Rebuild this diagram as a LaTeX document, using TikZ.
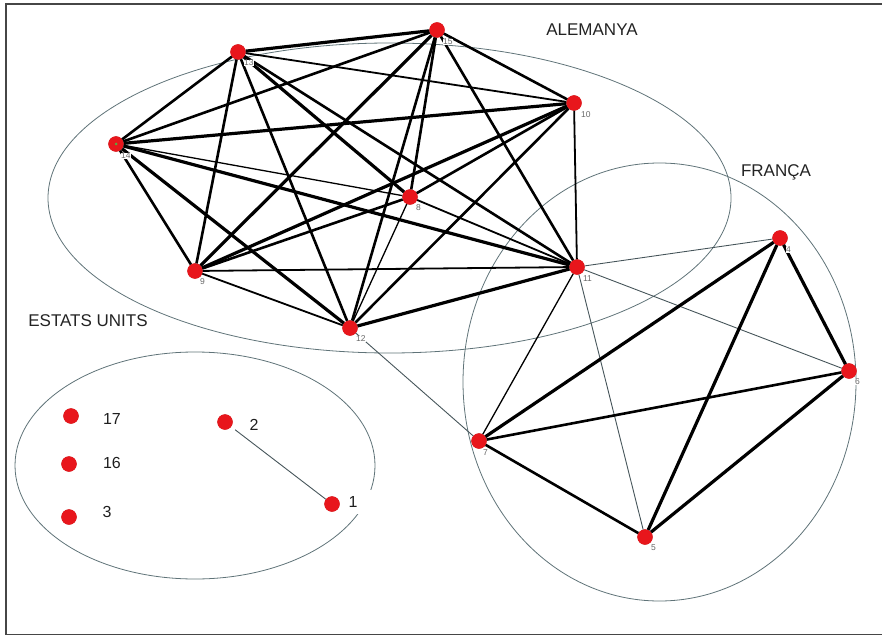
\documentclass[tikz,border=0pt]{standalone}
\usepackage{fontspec}
\setmainfont{Liberation Sans}
\definecolor{vred}{RGB}{232,22,28}
\definecolor{vredb}{RGB}{200,30,30}
\definecolor{vgrey}{RGB}{105,105,105}
\definecolor{ustext}{RGB}{30,30,30}
\definecolor{grtext}{RGB}{35,35,35}
\definecolor{hullc}{RGB}{95,115,120}
\definecolor{thinc}{RGB}{70,85,90}
\definecolor{framec}{RGB}{70,70,70}
\definecolor{vgreen}{RGB}{90,170,60}
\begin{document}
\begin{tikzpicture}[x=1pt,y=-1pt,
  vtx/.style={circle,fill=vred,draw=vredb,line width=0.4pt,minimum size=15pt,inner sep=0pt},
  vlab/.style={font=\fontsize{8.5}{9}\selectfont,text=vgrey,fill=white,inner sep=0.4pt,anchor=north west},
  uslab/.style={font=\fontsize{16}{18}\selectfont,text=ustext},
  grp/.style={font=\fontsize{17}{20}\selectfont,text=grtext},
  hull/.style={draw=hullc,line width=0.8pt},
  eA/.style={line width=3.2pt},
  eB/.style={line width=2.6pt},
  eC/.style={line width=1.8pt},
  eD/.style={line width=1.3pt},
  eT/.style={line width=0.9pt,draw=thinc},
  frame/.style={line width=1.4pt,draw=framec}]
\useasboundingbox (0,0) rectangle (882,636);
% frame
\draw[frame] (882,4) -- (6,4) -- (6,634.5) -- (882,634.5);
% group outlines
\draw[hull] (389.5,198) ellipse [x radius=341.5, y radius=155];
\draw[hull] (659.5,382) ellipse [x radius=196.5, y radius=219];
\draw[hull] (195,465.5) ellipse [x radius=180, y radius=113.5];
% group names
\node[grp] (tAL) at (592,30) {ALEMANYA};
\node[grp] (tFR) at (776,172) {FRANÇA};
\node[grp] (tUS) at (88,321) {ESTATS UNITS};
% vertices
\node[vtx] (n13) at (238,52) {};
\node[vtx] (n15) at (437,30) {};
\node[vtx] (n10) at (574,103) {};
\node[vtx] (n14) at (116,144) {};
\node[vtx] (n8) at (410,197) {};
\node[vtx] (n9) at (195,271) {};
\node[vtx] (n11) at (577,267) {};
\node[vtx] (n12) at (350,328) {};
\node[vtx] (n4) at (780,238) {};
\node[vtx] (n6) at (849,371) {};
\node[vtx] (n7) at (479,441) {};
\node[vtx] (n5) at (645,537) {};
\node[vtx] (n17) at (71,416) {};
\node[vtx] (n16) at (69,464) {};
\node[vtx] (n3) at (69,517) {};
\node[vtx] (n2) at (225,422) {};
\node[vtx] (n1) at (332,504) {};
% edges
\draw[eA] (n13) -- (n15);
\draw[eC] (n13) -- (n10);
\draw[eB] (n13) -- (n14);
\draw[eB] (n13) -- (n9);
\draw[eB] (n13) -- (n12);
\draw[eA] (n13) -- (n8);
\draw[eB] (n13) -- (n11);
\draw[eB] (n15) -- (n14);
\draw[eB] (n15) -- (n10);
\draw[eA] (n15) -- (n9);
\draw[eB] (n15) -- (n8);
\draw[eB] (n15) -- (n12);
\draw[eB] (n15) -- (n11);
\draw[eA] (n10) -- (n14);
\draw[eA] (n10) -- (n9);
\draw[eB] (n10) -- (n8);
\draw[eB] (n10) -- (n12);
\draw[eC] (n10) -- (n11);
\draw[eD] (n14) -- (n8);
\draw[eA] (n14) -- (n11);
\draw[eB] (n14) -- (n9);
\draw[eA] (n14) -- (n12);
\draw[eB] (n8) -- (n9);
\draw[eC] (n8) -- (n11);
\draw[eD] (n8) -- (n12);
\draw[eC] (n9) -- (n11);
\draw[eC] (n9) -- (n12);
\draw[eA] (n12) -- (n11);
% links between groups
\draw[eT] (n11) -- (n4);
\draw[eT] (n11) -- (n6);
\draw[eD] (n11) -- (n7);
\draw[eT] (n11) -- (n5);
\draw[eT] (n12) -- (n7);
% France
\draw[eA] (n4) -- (n7);
\draw[eA] (n4) -- (n5);
\draw[eA] (n4) -- (n6);
\draw[eB] (n7) -- (n6);
\draw[eB] (n7) -- (n5);
\draw[eA] (n6) -- (n5);
% USA
\draw[eT,shorten <=5pt] (n2) -- (n1);
% redraw vertices on top
\foreach \v in {n13,n15,n10,n14,n8,n9,n11,n12,n4,n6,n7,n5,n17,n16,n3,n2,n1}
  \fill[vred] (\v) circle (7.5pt);
\fill[vgreen] (n14) circle (1.5pt);
% small vertex labels
\node[vlab] (l13) at ([xshift=0pt,yshift=-2pt]n13.south east) {13};
\node[vlab] (l15) at ([xshift=0pt,yshift=-3pt]n15.south east) {15};
\node[vlab] (l10) at ([xshift=1pt,yshift=-3pt]n10.south east) {10};
\node[vlab] (l14) at ([xshift=-1pt,yshift=-3pt]n14.south east) {14};
\node[vlab] (l8) at ([xshift=0pt,yshift=-2pt]n8.south east) {8};
\node[vlab] (l9) at ([xshift=-1pt,yshift=-2pt]n9.south east) {9};
\node[vlab] (l11) at ([xshift=0pt,yshift=-3pt]n11.south east) {11};
\node[vlab] (l12) at ([xshift=0pt,yshift=-2pt]n12.south east) {12};
\node[vlab] (l4) at ([xshift=0pt,yshift=-3pt]n4.south east) {4};
\node[vlab] (l6) at ([xshift=0pt,yshift=-2pt]n6.south east) {6};
\node[vlab] (l7) at ([xshift=-2pt,yshift=-3pt]n7.south east) {7};
\node[vlab] (l5) at ([xshift=0pt,yshift=-2pt]n5.south east) {5};
% US labels
\node[uslab] (l17) at (112,419) {17};
\node[uslab] (l16) at (112,463) {16};
\node[uslab] (l3) at (107,512) {3};
\node[uslab] (l2) at (254,425) {2};
\node[uslab,fill=white,minimum width=30pt,minimum height=24pt,inner sep=0pt] (l1) at (360,502) {\hspace*{-14pt}1};
\end{tikzpicture}
\end{document}
